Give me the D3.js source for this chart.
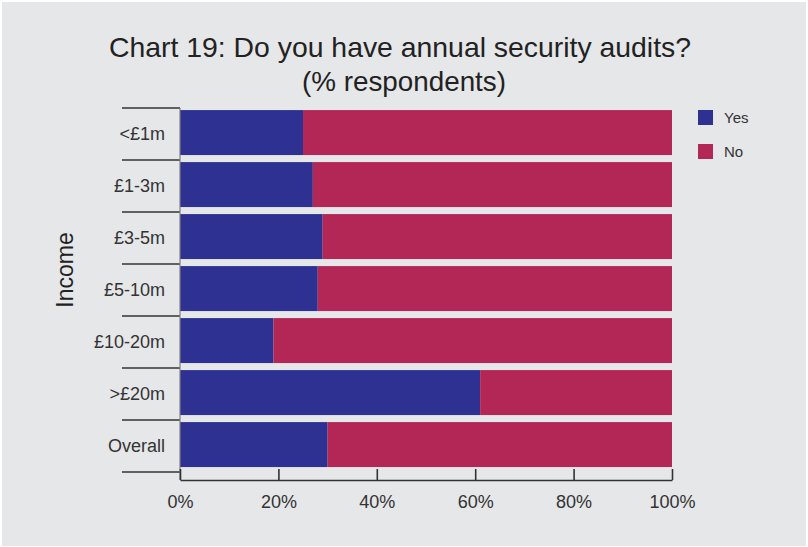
<!DOCTYPE html>
<html>
<head>
<meta charset="utf-8">
<script src="https://cdn.jsdelivr.net/npm/d3@7"></script>
<style>
  html, body { margin: 0; padding: 0; background: #ffffff; }
  svg { display: block; }
</style>
</head>
<body>
<svg id="chart" width="808" height="547"></svg>
<script>
// Income bands and share of respondents answering each way (%)
const categories = ["<£1m", "£1-3m", "£3-5m", "£5-10m", "£10-20m", ">£20m", "Overall"];
const yesValues = [25, 27, 29, 28, 19, 61, 30];
const noValues  = [75, 73, 71, 72, 81, 39, 70];
const seriesNames = ["Yes", "No"];
const seriesColors = ["#2e3192", "#b22755"];
const xTickValues = [0, 20, 40, 60, 80, 100];

(function () {
  const svg = d3.select("#chart");

  // panel background
  svg.append("rect")
    .attr("x", 2).attr("y", 2)
    .attr("width", 804).attr("height", 544)
    .attr("fill", "#e6e7e9");

  const plotLeft = 180, plotRight = 672, plotTop = 108, bandBottom = 472, axisY = 480;

  const x = d3.scaleLinear().domain([0, 100]).range([plotLeft, plotRight]);
  const y = d3.scaleBand().domain(categories).range([plotTop, bandBottom]).padding(0);
  const step = y.step();

  // stacked rows
  const rows = categories.map((c, i) => ({ cat: c, Yes: yesValues[i], No: noValues[i] }));
  const stack = d3.stack().keys(seriesNames)(rows);

  const g = svg.append("g");
  stack.forEach((layer, si) => {
    g.selectAll(null)
      .data(layer)
      .join("rect")
      .attr("x", d => x(d[0]))
      .attr("width", d => x(d[1]) - x(d[0]))
      .attr("y", d => y(d.data.cat) + step * 0.04)
      .attr("height", step * 0.865)
      .attr("fill", seriesColors[si]);
  });

  const labelFont = "'Liberation Sans', Arial, sans-serif";
  const axisColor = "#333333";

  // category axis: ticks sit on the band boundaries
  const yAxisG = svg.append("g");
  const boundaries = categories.map(c => y(c)).concat([bandBottom]);
  yAxisG.selectAll("line.tick")
    .data(boundaries)
    .join("line")
    .attr("x1", 122).attr("x2", plotLeft)
    .attr("y1", d => d).attr("y2", d => d)
    .attr("stroke", axisColor).attr("stroke-width", 1.6);
  yAxisG.append("line")
    .attr("x1", plotLeft).attr("x2", plotLeft)
    .attr("y1", plotTop).attr("y2", axisY)
    .attr("stroke", "#808080").attr("stroke-width", 1.2);
  yAxisG.selectAll("text")
    .data(categories)
    .join("text")
    .attr("x", 165)
    .attr("y", d => y(d) + step / 2)
    .attr("dy", "0.35em")
    .attr("text-anchor", "end")
    .attr("font-family", labelFont)
    .attr("font-size", 18)
    .attr("fill", axisColor)
    .text(d => d);

  // value axis along the bottom, ticks pointing up
  const xAxis = d3.axisBottom(x)
    .tickValues(xTickValues)
    .tickFormat(d => d + "%")
    .tickSizeInner(-11)
    .tickSizeOuter(0)
    .tickPadding(15);
  const xAxisG = svg.append("g")
    .attr("transform", `translate(0,${axisY})`)
    .call(xAxis);
  xAxisG.select(".domain").attr("stroke", axisColor).attr("stroke-width", 1.6);
  xAxisG.selectAll(".tick line").attr("stroke", axisColor).attr("stroke-width", 1.6);
  xAxisG.selectAll(".tick text")
    .attr("font-family", labelFont)
    .attr("font-size", 18)
    .attr("fill", axisColor);

  // axis title
  svg.append("text")
    .attr("transform", "translate(73,270) rotate(-90)")
    .attr("text-anchor", "middle")
    .attr("font-family", labelFont)
    .attr("font-size", 23)
    .attr("fill", "#222")
    .text("Income");

  // chart title
  const title = svg.append("g")
    .attr("font-family", labelFont)
    .attr("font-size", 28)
    .attr("fill", "#222");
  title.append("text")
    .attr("x", 109).attr("y", 57)
    .attr("textLength", 582).attr("lengthAdjust", "spacingAndGlyphs")
    .text("Chart 19: Do you have annual security audits?");
  title.append("text")
    .attr("x", 302).attr("y", 91)
    .attr("textLength", 204).attr("lengthAdjust", "spacingAndGlyphs")
    .text("(% respondents)");

  // legend
  const legend = svg.append("g");
  seriesNames.forEach((name, i) => {
    legend.append("rect")
      .attr("x", 698).attr("y", 110 + i * 34)
      .attr("width", 15).attr("height", 15)
      .attr("fill", seriesColors[i]);
    legend.append("text")
      .attr("x", 724).attr("y", 118 + i * 34)
      .attr("dy", "0.35em")
      .attr("font-family", labelFont)
      .attr("font-size", 15)
      .attr("fill", axisColor)
      .text(name);
  });
})();
</script>
</body>
</html>
